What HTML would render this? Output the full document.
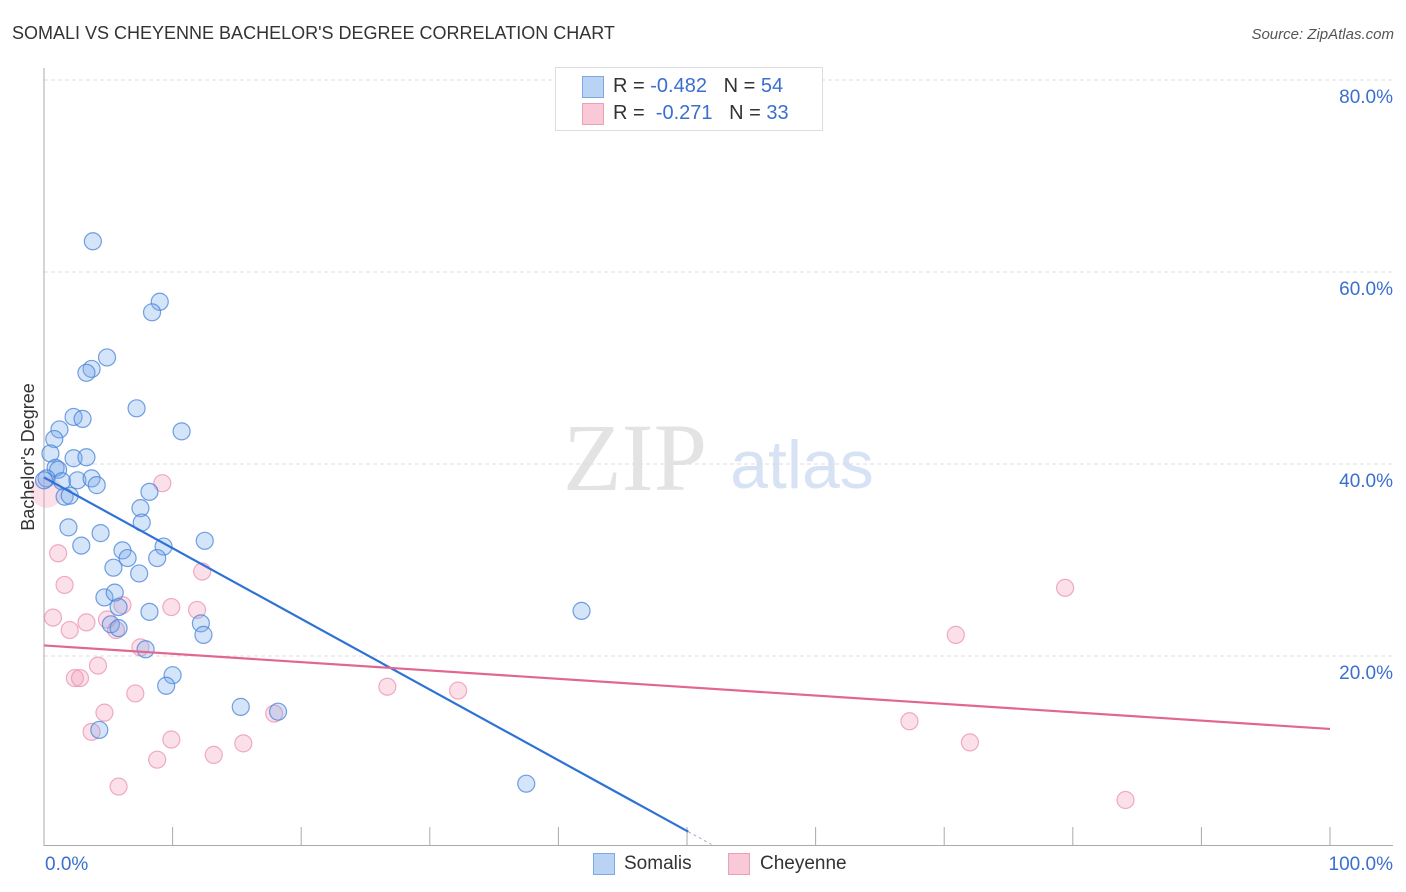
<!DOCTYPE html>
<html><head><meta charset="utf-8"><style>
body{margin:0;background:#fff;font-family:"Liberation Sans",sans-serif}
#wrap{position:relative;width:1406px;height:892px;overflow:hidden}
</style></head><body>
<div id="wrap">
<svg id="svg" width="1406" height="892">
<text x="12" y="39" font-size="18" fill="#333">SOMALI VS CHEYENNE BACHELOR'S DEGREE CORRELATION CHART</text>
<text x="1394" y="39" font-size="15" fill="#555" font-style="italic" text-anchor="end">Source: ZipAtlas.com</text>
<text x="635" y="490" font-size="96" font-family="Liberation Serif,serif" fill="#e3e3e3" text-anchor="middle">ZIP</text>
<text x="802" y="488" font-size="68" fill="#d7e3f5" text-anchor="middle">atlas</text>
<g id="grid"></g><g id="axes"></g><g id="pts"></g><g id="lines"></g>
<text x="34" y="457" font-size="18" fill="#333" text-anchor="middle" transform="rotate(-90 34 457)">Bachelor's Degree</text>
</svg>
<div style="position:absolute;left:555px;top:67px;width:266px;height:62px;border:1px solid #ddd;background:#fff;font-size:20px;color:#333">
 <div style="position:absolute;left:26px;top:8px;width:20px;height:20px;background:#b9d3f5;border:1px solid #7fa8e0"></div>
 <div style="position:absolute;left:57px;top:7px">R = <span style="color:#3a6fd0">-0.482</span>&nbsp;&nbsp;&nbsp;N = <span style="color:#3a6fd0">54</span></div>
 <div style="position:absolute;left:26px;top:35px;width:20px;height:20px;background:#f9c9d7;border:1px solid #eba0b8"></div>
 <div style="position:absolute;left:57px;top:34px">R = &nbsp;<span style="color:#3a6fd0">-0.271</span>&nbsp;&nbsp;&nbsp;N = <span style="color:#3a6fd0">33</span></div>
</div>
<div style="position:absolute;left:593px;top:853px;width:20px;height:20px;background:#b9d3f5;border:1px solid #7fa8e0"></div>
<div style="position:absolute;left:624px;top:853px;font-size:19px;color:#333">Somalis</div>
<div style="position:absolute;left:728px;top:853px;width:20px;height:20px;background:#f9c9d7;border:1px solid #eba0b8"></div>
<div style="position:absolute;left:760px;top:853px;font-size:19px;color:#333">Cheyenne</div>
</div>
<script>
const yTicks=[20,40,60,80];
const xTickLabels=["0.0%","100.0%"];
const somaliX=[3.8,9.0,8.4,4.9,3.7,3.3,7.2,2.3,3.0,10.7,1.2,0.8,0.5,2.3,3.3,0.9,1.1,0.2,1.4,2.6,3.7,4.1,1.6,2.0,8.2,7.5,1.9,7.6,4.4,12.5,2.9,6.1,9.3,6.5,8.8,5.4,7.4,4.7,5.5,5.8,8.2,12.2,12.4,5.2,5.8,7.9,10.0,9.5,15.3,18.2,4.3,41.8,37.5,0.0];
const somaliY=[63.2,56.9,55.8,51.1,49.9,49.5,45.8,44.9,44.7,43.4,43.6,42.6,41.1,40.6,40.7,39.6,39.4,38.5,38.2,38.3,38.5,37.8,36.6,36.7,37.1,35.4,33.4,33.9,32.8,32.0,31.5,31.0,31.4,30.2,30.2,29.2,28.6,26.1,26.6,25.1,24.6,23.4,22.2,23.3,22.9,20.7,18.0,16.9,14.7,14.2,12.3,24.7,6.7,38.3];
const cheyX=[0.2,9.2,1.1,12.3,1.6,0.7,6.1,9.9,11.9,2.0,3.3,5.6,4.9,7.5,79.4,70.9,4.2,2.4,2.8,26.7,32.2,7.1,4.7,17.9,67.3,3.7,9.9,15.5,72.0,13.2,8.8,5.8,84.1];
const cheyY=[37.1,38.0,30.7,28.8,27.4,24.0,25.3,25.1,24.8,22.7,23.5,22.7,23.8,20.9,27.1,22.2,19.0,17.7,17.7,16.8,16.4,16.1,14.1,14.0,13.2,12.1,11.3,10.9,11.0,9.7,9.2,6.4,5.0];
const somaliTrend=[38.6,1.7,50.1]; // intercept, value at end, end x
const cheyTrend=[21.1,12.4];
const NS="http://www.w3.org/2000/svg";
const X=v=>44+v*12.86, Y=v=>848-v*9.6;
function mk(p,t,a){const e=document.createElementNS(NS,t);for(const k in a)e.setAttribute(k,a[k]);p.appendChild(e);return e;}
const grid=document.getElementById('grid'),axes=document.getElementById('axes'),pts=document.getElementById('pts'),lines=document.getElementById('lines');
yTicks.forEach(t=>{
 const l=mk(grid,'line',{x1:44,x2:1393,y1:Y(t),y2:Y(t),stroke:'#ddd','stroke-dasharray':'4,3'});
 
 
 const tx=mk(axes,'text',{x:1393,y:Y(t)+23,'font-size':19,fill:'#3a6fd0','text-anchor':'end'});
 tx.textContent=t.toFixed(1)+'%';
 
 
});
const ya=mk(axes,'line',{x1:44,x2:44,y1:68,y2:846,stroke:'#aaa'});


const xa=mk(axes,'line',{x1:44,x2:1393,y1:845.5,y2:845.5,stroke:'#aaa'});


for(let i=0;i<=10;i++){
 const tk=mk(axes,'line',{x1:X(i*10),x2:X(i*10),y1:827,y2:845,stroke:'#aaa'});
 
 
}
const xl0=mk(axes,'text',{x:45,y:870,'font-size':19,fill:'#3a6fd0'});xl0.textContent=xTickLabels[0];


const xl1=mk(axes,'text',{x:1393,y:870,'font-size':19,fill:'#3a6fd0','text-anchor':'end'});xl1.textContent=xTickLabels[1];


cheyX.forEach((v,i)=>{
 const c=mk(pts,'circle',{cx:X(v),cy:Y(cheyY[i]),r:i===0?16:8.5,fill:'rgba(244,160,188,0.32)',stroke:i===0?'none':'rgba(232,140,172,0.7)','stroke-width':1.2});
 
 
});
somaliX.forEach((v,i)=>{
 const c=mk(pts,'circle',{cx:X(v),cy:Y(somaliY[i]),r:8.5,fill:'rgba(120,170,235,0.32)',stroke:'rgba(70,130,215,0.75)','stroke-width':1.2});
 
 
});
const bl=mk(lines,'line',{x1:X(0),y1:Y(somaliTrend[0]),x2:X(somaliTrend[2]),y2:Y(somaliTrend[1]),stroke:'#2f72d6','stroke-width':2.2});


const slope=(somaliTrend[1]-somaliTrend[0])/somaliTrend[2];
const bd=mk(lines,'line',{x1:X(somaliTrend[2]),y1:Y(somaliTrend[1]),x2:X(somaliTrend[2]+1.8),y2:Y(somaliTrend[1]+slope*1.8),stroke:'#aac',
'stroke-width':1,'stroke-dasharray':'3,3'});


const pl=mk(lines,'line',{x1:X(0),y1:Y(cheyTrend[0]),x2:X(100),y2:Y(cheyTrend[1]),stroke:'#e2668f','stroke-width':2.2});


</script>
</body></html>
